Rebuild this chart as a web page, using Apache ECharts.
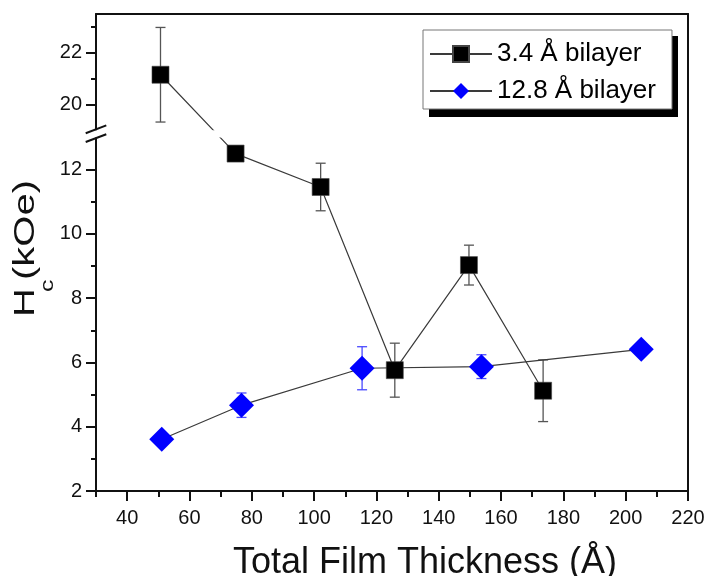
<!DOCTYPE html>
<html><head><meta charset="utf-8">
<script src="https://cdn.jsdelivr.net/npm/echarts@6/dist/echarts.min.js"></script>
<style>html,body{margin:0;padding:0;background:#fff}#c{width:704px;height:576px}</style>
</head><body><div id="c"></div>
<script>
// ---- data ----
const thick34 = [50.7, 74.8, 102.1, 125.9, 149.7, 173.5];
const hc34    = [21.15, 12.5, 11.46, 5.76, 9.03, 5.12];
const err34   = [1.83, 0, 0.74, 0.84, 0.62, 0.96];
const thick128 = [51.1, 76.7, 115.4, 153.7, 205.0];
const hc128    = [3.61, 4.67, 5.82, 5.87, 6.41];
const err128   = [0, 0.38, 0.67, 0.37, 0];
const xMajorTicks = [40, 60, 80, 100, 120, 140, 160, 180, 200, 220];
const xMinorTicks = [30, 50, 70, 90, 110, 130, 150, 170, 190, 210];
const yMajorTicks = [2, 4, 6, 8, 10, 12, 20, 22];
const yMinorTicks = [3, 5, 7, 9, 11, 21, 23];
const seriesNames = ['3.4 Å bilayer', '12.8 Å bilayer'];
const xTitle = 'Total Film Thickness (Å)';

// ---- broken y scale (lower 2..13, upper 19..23.5 at a smaller scale) ----
const LOW_MIN = 2, LOW_MAX = 13, HIGH_MIN = 19, HIGH_MAX = 23.5;
const GAP = 0.224, K = 0.8043;
function fwd(v) { return v <= LOW_MAX ? v : LOW_MAX + GAP + (v - HIGH_MIN) * K; }
function inv(t) { return t <= LOW_MAX + GAP / 2 ? t : HIGH_MIN + (t - LOW_MAX - GAP) / K; }

const FONT = "'Liberation Sans', Arial, sans-serif";
const AX = '#111';
const chart = echarts.init(document.getElementById('c'), null, {renderer: 'canvas'});

function errSeries(xs, ys, es, color, name) {
  return {
    type: 'custom', name: name, silent: true,
    encode: {x: 0, y: [1, 2]},
    data: xs.map((x, i) => [x, fwd(ys[i] - es[i]), fwd(ys[i] + es[i]), es[i]]),
    renderItem: function (params, api) {
      if (api.value(3) <= 0) return null;
      const lo = api.coord([api.value(0), api.value(1)]);
      const hi = api.coord([api.value(0), api.value(2)]);
      const w = 5;
      const st = {stroke: color, lineWidth: 1.3, fill: null};
      return {type: 'group', children: [
        {type: 'line', shape: {x1: lo[0], y1: lo[1], x2: hi[0], y2: hi[1]}, style: st},
        {type: 'line', shape: {x1: lo[0] - w, y1: lo[1], x2: lo[0] + w, y2: lo[1]}, style: st},
        {type: 'line', shape: {x1: hi[0] - w, y1: hi[1], x2: hi[0] + w, y2: hi[1]}, style: st}
      ]};
    }
  };
}

const yMin = fwd(LOW_MIN), yMax = fwd(HIGH_MAX);

chart.setOption({
  animation: false,
  grid: {left: 96, right: 16, top: 14, bottom: 85, containLabel: false, outerBoundsMode: 'none'},
  xAxis: [
    {type: 'value', min: 30, max: 220, position: 'bottom',
     axisLine: {show: true, lineStyle: {color: AX, width: 2}},
     axisTick: {show: true, inside: false, customValues: xMajorTicks, length: 10, lineStyle: {color: AX, width: 2}},
     axisLabel: {customValues: xMajorTicks, fontSize: 20, color: '#111', margin: 17, fontFamily: FONT},
     splitLine: {show: false},
     name: xTitle, nameLocation: 'middle', nameGap: 54,
     nameTextStyle: {fontSize: 36, color: '#111', fontFamily: FONT, padding: [0, 0, 0, 66]}},
    {type: 'value', min: 30, max: 220, position: 'bottom',
     axisLine: {show: false},
     axisTick: {show: true, inside: false, customValues: xMinorTicks, length: 6, lineStyle: {color: AX, width: 2}},
     axisLabel: {show: false}, splitLine: {show: false}},
    {type: 'value', min: 30, max: 220, position: 'top',
     axisLine: {show: true, lineStyle: {color: AX, width: 2}},
     axisTick: {show: false}, axisLabel: {show: false}, splitLine: {show: false}}
  ],
  yAxis: [
    {type: 'value', min: yMin, max: yMax, position: 'left',
     axisLine: {show: true, lineStyle: {color: AX, width: 2}},
     axisTick: {show: true, inside: false, customValues: yMajorTicks.map(fwd), length: 10, lineStyle: {color: AX, width: 2}},
     axisLabel: {customValues: yMajorTicks.map(fwd), formatter: v => String(Math.round(inv(v))),
                 fontSize: 20, color: '#111', margin: 14, fontFamily: FONT},
     splitLine: {show: false}},
    {type: 'value', min: yMin, max: yMax, position: 'left',
     axisLine: {show: false},
     axisTick: {show: true, inside: false, customValues: yMinorTicks.map(fwd), length: 5, lineStyle: {color: AX, width: 2}},
     axisLabel: {show: false}, splitLine: {show: false}},
    {type: 'value', min: yMin, max: yMax, position: 'right',
     axisLine: {show: true, lineStyle: {color: AX, width: 2}},
     axisTick: {show: false}, axisLabel: {show: false}, splitLine: {show: false}}
  ],
  legend: {
    data: seriesNames, orient: 'vertical', left: 423, top: 30, z: 10,
    itemWidth: 62, itemHeight: 20, itemGap: 11, padding: [11, 16, 5, 6],
    backgroundColor: '#fff', borderColor: '#777', borderWidth: 1,
    textStyle: {fontSize: 26, color: '#000', fontFamily: FONT},
    selectedMode: false
  },
  series: [
    errSeries(thick128, hc128, err128, '#4a4aff', 'err128'),
    {type: 'line', name: seriesNames[1], data: thick128.map((x, i) => [x, fwd(hc128[i])]),
     symbol: 'diamond', symbolSize: [25, 25],
     itemStyle: {color: '#0000ff'}, lineStyle: {color: '#3a3a3a', width: 1.2}},
    errSeries(thick34, hc34, err34, '#555', 'err34'),
    {type: 'line', name: seriesNames[0], data: thick34.map((x, i) => [x, fwd(hc34[i])]),
     symbol: 'rect', symbolSize: 17,
     itemStyle: {color: '#000', borderColor: '#444', borderWidth: 0.6}, lineStyle: {color: '#3a3a3a', width: 1.2}}
  ]
});

// ---- axis break decoration, legend shadow & y title ----
const yTop = chart.convertToPixel({yAxisIndex: 0}, fwd(HIGH_MIN));
const yBot = chart.convertToPixel({yAxisIndex: 0}, LOW_MAX);
const xL = chart.convertToPixel({xAxisIndex: 0}, 30);
const xR = chart.convertToPixel({xAxisIndex: 0}, 220);
const sdx = 10.3, sdy = 3.9;
chart.setOption({
  graphic: [
    {type: 'rect', z: 5, shape: {x: 429, y: 36, width: 249, height: 81}, style: {fill: '#000'}},
    {type: 'rect', z: 100, shape: {x: xL - 14, y: yTop, width: (xR - 2) - (xL - 14), height: yBot - yTop},
     style: {fill: '#fff'}},
    {type: 'line', z: 101, shape: {x1: xL - sdx, y1: yTop - 1 + sdy, x2: xL + sdx, y2: yTop - 1 - sdy},
     style: {stroke: AX, lineWidth: 2}},
    {type: 'line', z: 101, shape: {x1: xL - sdx, y1: yBot + 0.6 + sdy, x2: xL + sdx, y2: yBot + 0.6 - sdy},
     style: {stroke: AX, lineWidth: 2}},
    {type: 'group', z: 101, x: 36, y: 317, rotation: Math.PI / 2, scaleY: 0.75, children: [
      {type: 'text', x: 0, y: -14, style: {text: 'H', fontSize: 40, fontFamily: FONT, fill: '#111',
        align: 'left', verticalAlign: 'middle'}},
      {type: 'text', x: 25, y: 16, style: {text: 'c', fontSize: 25, fontFamily: FONT, fill: '#111',
        align: 'left', verticalAlign: 'middle'}},
      {type: 'text', x: 37, y: -14, style: {text: '(kOe)', fontSize: 40, fontFamily: FONT, fill: '#111',
        align: 'left', verticalAlign: 'middle'}}
    ]}
  ]
});
</script>
</body></html>
